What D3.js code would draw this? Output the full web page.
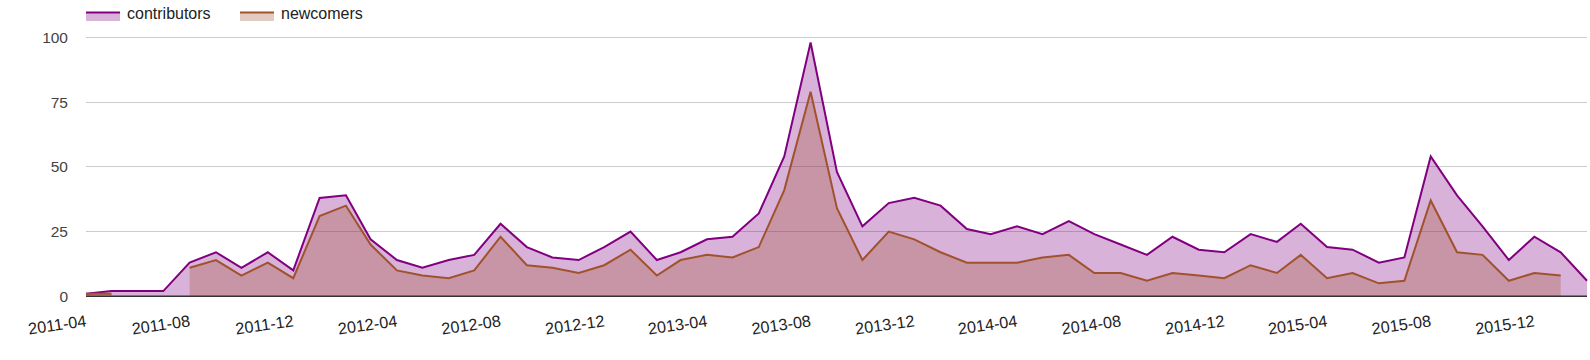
<!DOCTYPE html>
<html><head><meta charset="utf-8">
<script src="https://cdn.jsdelivr.net/npm/d3@7"></script>
<style>body{margin:0;background:#fff}svg{display:block}text{font-family:Arial,"Liberation Sans",sans-serif}</style>
</head><body><svg id="c" width="1590" height="360"></svg>
<script>
const months = ["2011-04","2011-05","2011-06","2011-07","2011-08","2011-09","2011-10","2011-11","2011-12",
"2012-01","2012-02","2012-03","2012-04","2012-05","2012-06","2012-07","2012-08","2012-09","2012-10","2012-11","2012-12",
"2013-01","2013-02","2013-03","2013-04","2013-05","2013-06","2013-07","2013-08","2013-09","2013-10","2013-11","2013-12",
"2014-01","2014-02","2014-03","2014-04","2014-05","2014-06","2014-07","2014-08","2014-09","2014-10","2014-11","2014-12",
"2015-01","2015-02","2015-03","2015-04","2015-05","2015-06","2015-07","2015-08","2015-09","2015-10","2015-11","2015-12",
"2016-01","2016-02"];
const contributors = [1,2,2,2,13,17,11,17,10,
38,39,22,14,11,14,16,28,19,15,14,19,
25,14,17,22,23,32,54,98,48,27,36,38,
35,26,24,27,24,29,24,20,16,23,18,17,
24,21,28,19,18,13,15,54,39,27,14,23,
17,6];
const newcomers = [1,1,null,null,11,14,8,13,7,
31,35,20,10,8,7,10,23,12,11,9,12,
18,8,14,16,15,19,41,79,34,14,25,22,
17,13,13,13,15,16,9,9,6,9,8,7,
12,9,16,7,9,5,6,37,17,16,6,9,
8,null];
const yTicks = [0,25,50,75,100];
const xTickLabels = ["2011-04","2011-08","2011-12","2012-04","2012-08","2012-12","2013-04","2013-08","2013-12","2014-04","2014-08","2014-12","2015-04","2015-08","2015-12"];

const parse = d3.timeParse("%Y-%m");
const dates = months.map(parse);
const svg = d3.select("#c");
const L = 86, R = 1587, T = 37.3, B = 296.3;
const x = d3.scaleTime().domain(d3.extent(dates)).range([L, R]);
const y = d3.scaleLinear().domain([0, 100]).range([B, T]);

svg.append("g").selectAll("line").data(yTicks.filter(v => v > 0)).join("line")
  .attr("x1", L).attr("x2", R).attr("y1", d => y(d)).attr("y2", d => y(d))
  .attr("stroke", "#cccccc").attr("stroke-width", 1).attr("shape-rendering","crispEdges");

svg.append("g").selectAll("text").data(yTicks).join("text")
  .attr("x", L - 18).attr("y", d => y(d) + 5.5).attr("text-anchor", "end")
  .attr("font-size", 15.5).attr("fill", "#444").text(d => d);

const series = [
  {name: "contributors", vals: contributors, color: "#800080"},
  {name: "newcomers", vals: newcomers, color: "#a0522d"}
];
series.forEach(s => {
  const pts = dates.map((d, i) => ({d, v: s.vals[i]}));
  const area = d3.area().defined(p => p.v != null).x(p => x(p.d)).y0(y(0)).y1(p => y(p.v));
  const line = d3.line().defined(p => p.v != null).x(p => x(p.d)).y(p => y(p.v));
  svg.append("path").attr("d", area(pts)).attr("fill", s.color).attr("fill-opacity", 0.3);
  svg.append("path").attr("d", line(pts)).attr("fill", "none").attr("stroke", s.color).attr("stroke-width", 2).attr("stroke-linejoin","miter");
});

svg.append("line").attr("x1", L).attr("x2", R).attr("y1", y(0)).attr("y2", y(0))
  .attr("stroke", "#333").attr("stroke-width", 1.5);

svg.append("g").selectAll("text").data(xTickLabels).join("text")
  .attr("transform", d => `translate(${x(parse(d)) + 1},${y(0) + 30}) rotate(-8)`)
  .attr("text-anchor", "end").attr("font-size", 16.3).attr("fill", "#222").text(d => d);

const lx = [86, 240];
series.forEach((s, i) => {
  const g = svg.append("g").attr("transform", `translate(${lx[i]},0)`);
  g.append("rect").attr("x", 0).attr("y", 12).attr("width", 34).attr("height", 9).attr("fill", s.color).attr("fill-opacity", 0.3);
  g.append("line").attr("x1", 0).attr("x2", 34).attr("y1", 12.5).attr("y2", 12.5).attr("stroke", s.color).attr("stroke-width", 2);
  g.append("text").attr("x", 41).attr("y", 18.5).attr("font-size", 16).attr("fill", "#222").text(s.name);
});
</script></body></html>
